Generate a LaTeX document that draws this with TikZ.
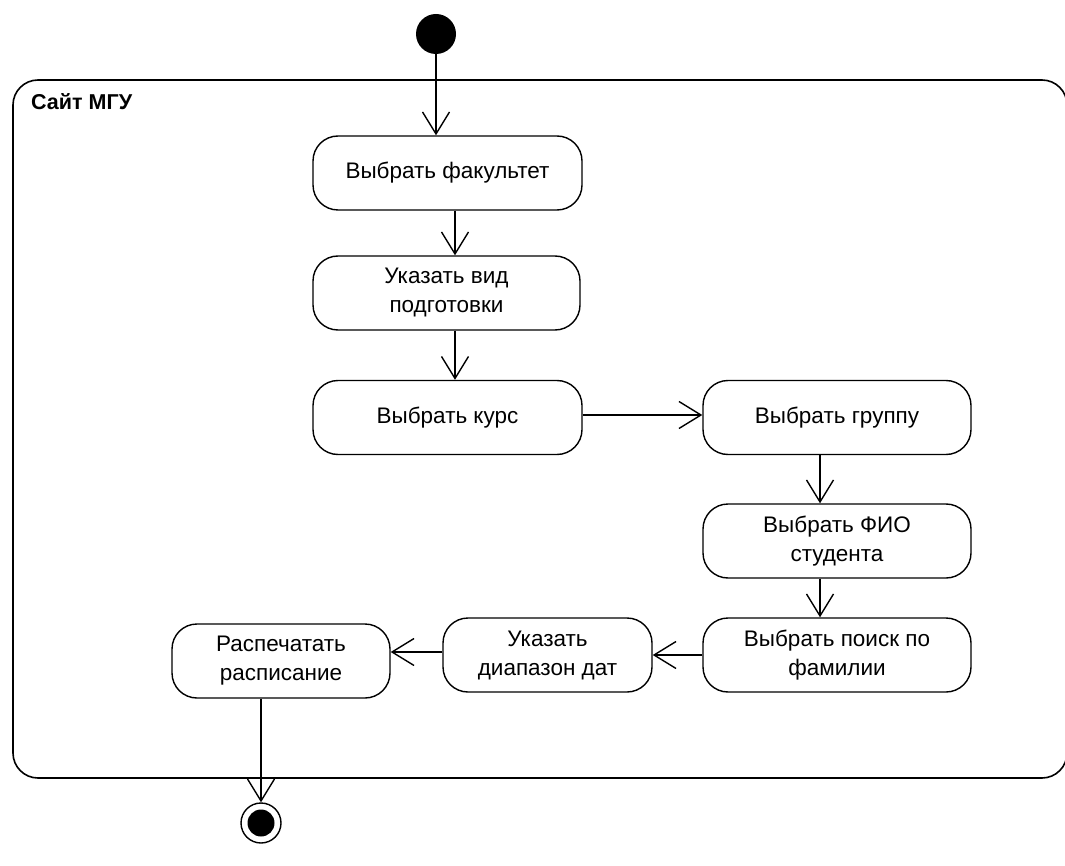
\documentclass[tikz,border=0pt]{standalone}
\usepackage{fontspec}
\setmainfont{Liberation Sans}
\usetikzlibrary{arrows.meta}
\begin{document}
\begin{tikzpicture}[x=1pt,y=-1pt,
  act/.style={draw, line width=1.4pt, rounded corners=25pt, align=center,
    font=\fontsize{22.5}{29}\selectfont, inner sep=0pt, minimum height=74pt},
  arr/.style={line width=1.4pt, -{Straight Barb[length=22pt,width=27pt,line width=1.4pt]}},
  frame/.style={draw, line width=1.6pt, rounded corners=25pt}]
\useasboundingbox (0,0) rectangle (1065,866);
\clip (0,0) rectangle (1065,866);
\fill[white] (0,0) rectangle (1065,866);
% frame
\draw[frame] (13,80) rectangle (1067,778);
\node[anchor=north west, font=\bfseries\fontsize{21.5}{24}\selectfont, inner sep=0pt] (title) at (31,93) {Сайт МГУ};
% start / end
\node[circle, fill=black, minimum size=40pt, inner sep=0pt] (start) at (436,34) {};
\node[circle, draw, line width=1.4pt, minimum size=40pt, inner sep=0pt] (endo) at (261,823) {};
\node[circle, fill=black, minimum size=27pt, inner sep=0pt] (endi) at (261,823) {};
% activities
\node[act, minimum width=269pt] (n1) at (447.5,173) {Выбрать факультет};
\node[act, minimum width=267pt] (n2) at (446.5,293) {Указать вид\\подготовки};
\node[act, minimum width=269pt] (n3) at (447.5,417.5) {Выбрать курс};
\node[act, minimum width=268pt] (n4) at (837,417.5) {Выбрать группу};
\node[act, minimum width=268pt] (n5) at (837,541) {Выбрать ФИО\\студента};
\node[act, minimum width=268pt] (n6) at (837,655) {Выбрать поиск по\\фамилии};
\node[act, minimum width=209pt] (n7) at (547.5,655) {Указать\\диапазон дат};
\node[act, minimum width=218pt] (n8) at (281,661) {Распечатать\\расписание};
% connectors
\draw[arr] (start) -- (start |- n1.north);
\draw[arr] ([xshift=7.5pt]n1.south) -- ([xshift=7.5pt]n1.south |- n2.north);
\draw[arr] ([xshift=8.5pt]n2.south) -- ([xshift=8.5pt]n2.south |- n3.north);
\draw[arr] ([yshift=2.5pt]n3.east) -- ([yshift=2.5pt]n3.east -| n4.west);
\draw[arr] ([xshift=-17pt]n4.south) -- ([xshift=-17pt]n4.south |- n5.north);
\draw[arr] ([xshift=-17pt]n5.south) -- ([xshift=-17pt]n5.south |- n6.north);
\draw[arr] (n6.west) -- (n7.east);
\draw[arr] ([yshift=3pt]n7.west) -- ([yshift=3pt]n7.west -| n8.east);
\draw[arr] (endo |- n8.south) -- (endo.north);
\end{tikzpicture}
\end{document}
